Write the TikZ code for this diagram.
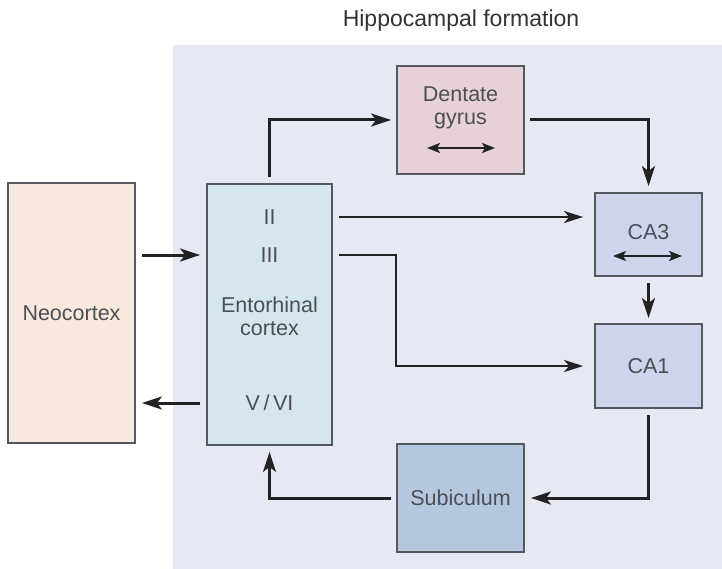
\documentclass[tikz,border=0pt]{standalone}
\usepackage{fontspec}
\setmainfont{Liberation Sans}
\usetikzlibrary{arrows.meta}
\definecolor{bgc}{HTML}{E6E8F4}
\definecolor{neoc}{HTML}{F8E9DE}
\definecolor{entc}{HTML}{D5E6EE}
\definecolor{dgc}{HTML}{E5D1D6}
\definecolor{cac}{HTML}{CDD4EC}
\definecolor{subc}{HTML}{B5C7DF}
\definecolor{boxline}{HTML}{55585E}
\definecolor{txt}{HTML}{4C4E55}
\definecolor{lin}{HTML}{222222}
\begin{document}
\begin{tikzpicture}[x=1pt,y=-1pt,
  box/.style={draw=boxline, line width=1.8pt, inner sep=0pt, text=txt,
    font=\fontsize{21.5}{23}\selectfont, align=center},
  lbl/.style={inner sep=0pt, text=txt, font=\fontsize{21.5}{23}\selectfont, align=center},
  conn/.style={draw=lin, line width=3pt, -{Stealth[length=20pt,width=13pt,inset=5pt]}},
  thinconn/.style={draw=lin, line width=2.2pt, -{Stealth[length=19pt,width=12pt,inset=5pt]}},
  dbl/.style={draw=lin, line width=2.2pt, {Stealth[length=13pt,width=10pt,inset=3pt]}-{Stealth[length=13pt,width=10pt,inset=3pt]}}]
\useasboundingbox (0,0) rectangle (722,569);
\fill[bgc] (173,45) rectangle (722,569);
\node[lbl, font=\fontsize{23}{25}\selectfont, text=black!80] (title) at (461,21) {Hippocampal formation};
% boxes
\node[box, fill=neoc, minimum width=127pt, minimum height=260pt] (neo) at (71.5,313) {Neocortex};
\node[box, fill=entc, minimum width=125pt, minimum height=261pt] (ent) at (269.5,314.5) {};
\node[box, fill=dgc, minimum width=127pt, minimum height=108pt] (dg) at (460.5,120) {};
\node[box, fill=cac, minimum width=107pt, minimum height=83pt] (ca3) at (648.5,234.5) {};
\node[box, fill=cac, minimum width=107pt, minimum height=84pt] (ca1) at (648.5,366) {CA1};
\node[box, fill=subc, minimum width=127pt, minimum height=108pt] (sub) at (460.5,498) {Subiculum};
% labels inside
\node[lbl] (lII) at (269.5,217) {II};
\node[lbl] (lIII) at (269.5,255) {III};
\node[lbl] (lent) at (269.5,316) {Entorhinal\\cortex};
\node[lbl] (lV) at (269.5,403) {V\,/\,VI};
\node[lbl] (ldg) at (460.5,108) {Dentate\\gyrus};
\node[lbl] (lca3) at (648.5,232) {CA3};
\coordinate (dga) at (427,148);
\coordinate (dgb) at (495,148);
\coordinate (caa) at (613,256);
\coordinate (cab) at (682,256);
\draw[dbl] (dga) -- (dgb);
\draw[dbl] (caa) -- (cab);
% connectors
\draw[conn, shorten <=6pt, shorten >=6pt] (neo.east |- lIII) -- (ent.west |- lIII);
\draw[conn, shorten <=6pt, shorten >=6pt] (ent.west |- lV) -- (neo.east |- lV);
\draw[conn, shorten >=5pt] ([yshift=6pt]ent.north) |- (dg.west);
\draw[conn, shorten >=6pt] ([xshift=5pt]dg.east) -| (ca3.north);
\draw[thinconn, shorten >=11pt] ([xshift=6pt]ent.east |- lII) -- (ca3.west |- lII);
\draw[thinconn, shorten >=11pt] ([xshift=6pt]ent.east |- lIII) -| (dg.west |- ca1) -- (ca1.west);
\draw[conn, shorten <=6pt, shorten >=5pt] (ca3.south) -- (ca1.north);
\draw[conn, shorten >=6pt] ([yshift=-6pt]ca1.south) |- (sub.east);
\draw[conn, shorten >=6pt] ([xshift=-5pt]sub.west) -| (ent.south);
\end{tikzpicture}
\end{document}
